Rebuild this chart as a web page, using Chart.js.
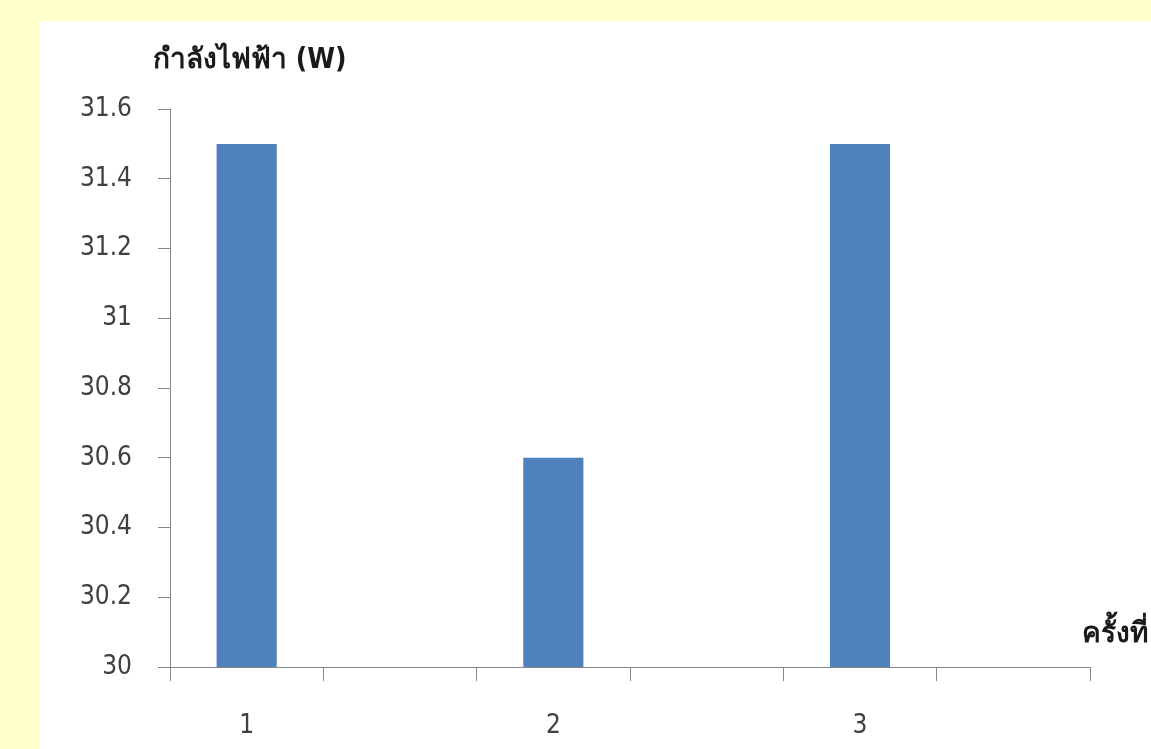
<!DOCTYPE html>
<html>
<head>
<meta charset="utf-8">
<script src="https://cdn.jsdelivr.net/npm/chart.js@4/dist/chart.umd.min.js"></script>
<style>
  html, body { margin: 0; padding: 0; background: #FFFFCC; }
  body { width: 1151px; height: 749px; position: relative; overflow: hidden; }
  #panel { position: absolute; left: 40px; top: 21px; right: 0; bottom: 0; background: #FFFFFF; }
  #wrap { position: absolute; left: 0; top: 0; width: 1151px; height: 749px; }
</style>
</head>
<body>
<div id="panel"></div>
<div id="wrap"><canvas id="chart" width="1151" height="749"></canvas></div>
<script>
// Measurement rounds (ครั้งที่) and measured electric power in watts
const categories = ['1', '', '2', '', '3', ''];
const power = [31.5, null, 30.6, null, 31.5, null];
const yTickValues = [30, 30.2, 30.4, 30.6, 30.8, 31, 31.2, 31.4, 31.6];
const yTickLabels = ['30', '30.2', '30.4', '30.6', '30.8', '31', '31.2', '31.4', '31.6'];
const yTitle = 'กำลังไฟฟ้า (W)';
const xTitle = 'ครั้งที่';

const FONT = '"DejaVu Sans Condensed", "DejaVu Sans", "Noto Sans", sans-serif';
const AXIS = '#868686';
const LABEL = '#404040';

// Axis titles: the value title sits above the plot, the round title at the end of the x axis
const axisTitles = {
  id: 'axisTitles',
  afterDraw(chart) {
    const { ctx, chartArea } = chart;
    ctx.save();
    ctx.fillStyle = '#1a1a1a';
    ctx.font = 'bold 28px ' + FONT;
    ctx.textBaseline = 'alphabetic';
    ctx.textAlign = 'left';
    ctx.fillText(yTitle, chartArea.left - 17, chartArea.top - 41);
    ctx.fillText(xTitle, chartArea.right - 8, chartArea.bottom - 25);
    ctx.restore();
  }
};

new Chart(document.getElementById('chart'), {
  type: 'bar',
  data: {
    labels: categories,
    datasets: [{
      data: power,
      backgroundColor: '#4F81BD',
      borderWidth: 0,
      categoryPercentage: 1,
      barPercentage: 0.392
    }]
  },
  options: {
    responsive: false,
    animation: false,
    devicePixelRatio: 1,
    layout: { padding: { left: 0, top: 109, right: 61, bottom: 0 } },
    plugins: { legend: { display: false }, tooltip: { enabled: false } },
    scales: {
      x: {
        offset: true,
        grid: { offset: true, drawOnChartArea: false, drawTicks: true, tickLength: 14, color: AXIS, lineWidth: 1 },
        border: { display: true, color: AXIS, width: 1 },
        ticks: { color: LABEL, font: { family: FONT, size: 26 }, padding: 30, maxRotation: 0, autoSkip: false },
        afterFit(scale) { scale.height = 82; }
      },
      y: {
        min: 30,
        max: 31.6,
        afterBuildTicks(scale) { scale.ticks = yTickValues.map(v => ({ value: v })); },
        grid: { drawOnChartArea: false, drawTicks: true, tickLength: 12, color: AXIS, lineWidth: 1 },
        border: { display: true, color: AXIS, width: 1 },
        ticks: {
          color: LABEL,
          font: { family: FONT, size: 26 },
          padding: 26,
          callback(value) {
            const i = yTickValues.findIndex(v => Math.abs(v - value) < 1e-9);
            return i >= 0 ? yTickLabels[i] : '';
          }
        },
        afterFit(scale) { scale.width = 170; }
      }
    }
  },
  plugins: [axisTitles]
});
</script>
</body>
</html>
